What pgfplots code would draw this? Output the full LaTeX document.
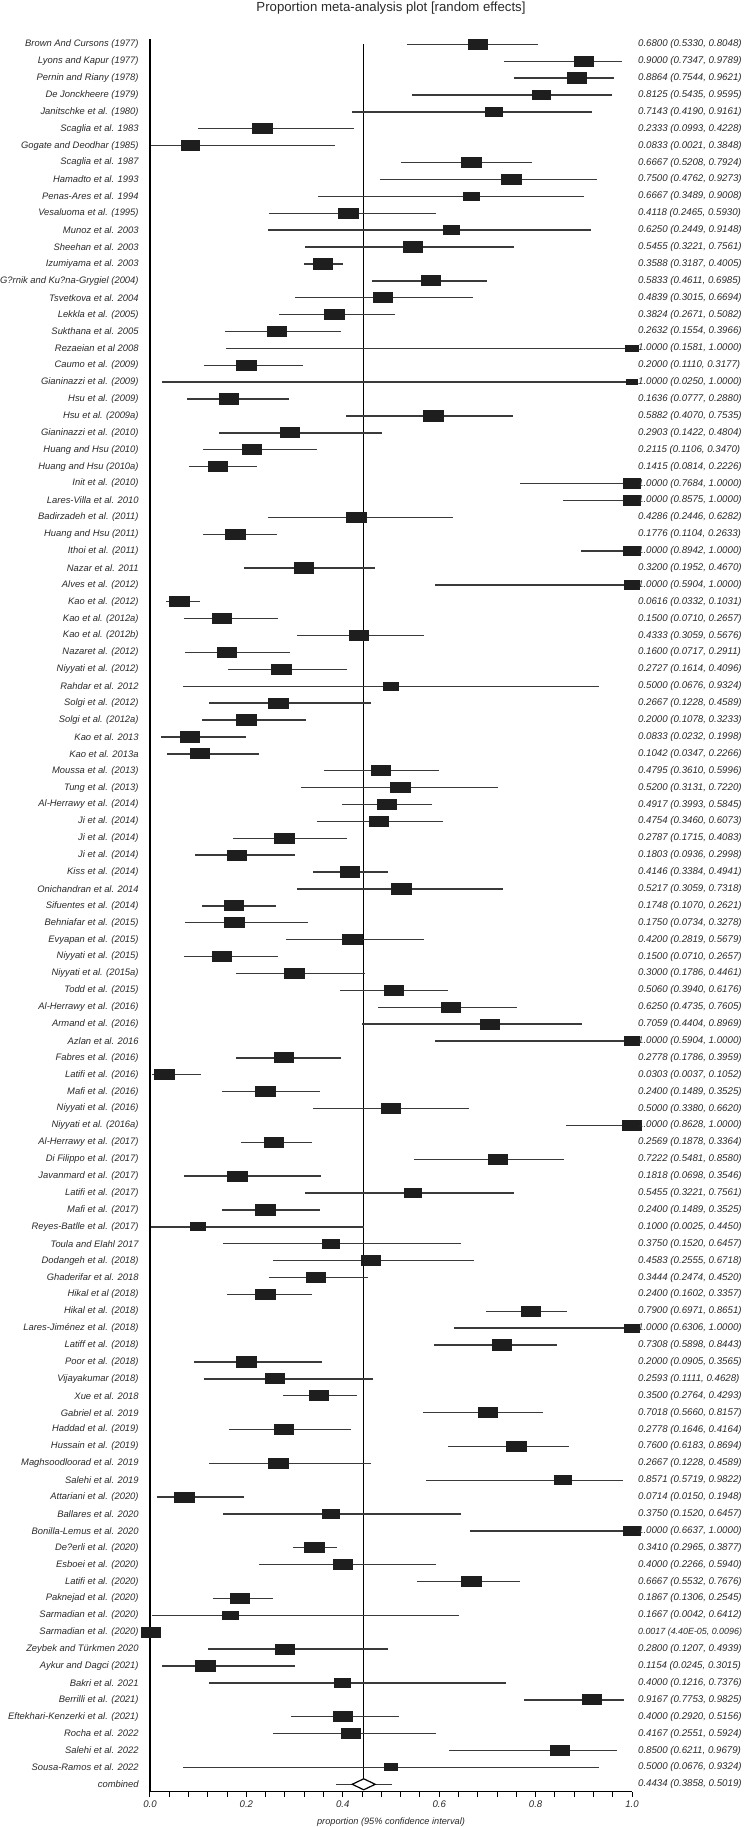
\documentclass[border=0pt]{standalone}
\usepackage{fontspec}
\setmainfont{Liberation Sans}
\usepackage{pgfplots}
\usepackage{pgfplotstable}
\pgfplotsset{compat=1.18}
\definecolor{boxc}{HTML}{1E1E1E}
\definecolor{linec}{HTML}{3A3A3A}
\definecolor{txtc}{HTML}{2A2A2A}

\pgfplotstableread[col sep=semicolon]{
row;name;p;lo;hi;w
1;Brown And Cursons (1977);0.6800;0.5330;0.8048;40
2;Lyons and Kapur (1977);0.9000;0.7347;0.9789;40
3;Pernin and Riany (1978);0.8864;0.7544;0.9621;40
4;De Jonckheere (1979);0.8125;0.5435;0.9595;36
5;Janitschke et al. (1980);0.7143;0.4190;0.9161;35
6;Scaglia et al. 1983;0.2333;0.0993;0.4228;40
7;Gogate and Deodhar (1985);0.0833;0.0021;0.3848;37
8;Scaglia et al. 1987;0.6667;0.5208;0.7924;40
9;Hamadto et al. 1993;0.7500;0.4762;0.9273;40
10;Penas-Ares et al. 1994;0.6667;0.3489;0.9008;34
11;Vesaluoma et al. (1995);0.4118;0.2465;0.5930;40
12;Munoz et al. 2003;0.6250;0.2449;0.9148;33
13;Sheehan et al. 2003;0.5455;0.3221;0.7561;40
14;Izumiyama et al. 2003;0.3588;0.3187;0.4005;40
15;G?rnik and Ku?na-Grygiel (2004);0.5833;0.4611;0.6985;40
16;Tsvetkova et al. 2004;0.4839;0.3015;0.6694;40
17;Lekkla et al. (2005);0.3824;0.2671;0.5082;40
18;Sukthana et al. 2005;0.2632;0.1554;0.3966;40
19;Rezaeian et al 2008;1.0000;0.1581;1.0000;25
20;Caumo et al. (2009);0.2000;0.1110;0.3177;40
21;Gianinazzi et al. (2009);1.0000;0.0250;1.0000;22
22;Hsu et al. (2009);0.1636;0.0777;0.2880;40
23;Hsu et al. (2009a);0.5882;0.4070;0.7535;40
24;Gianinazzi et al. (2010);0.2903;0.1422;0.4804;40
25;Huang and Hsu (2010);0.2115;0.1106;0.3470;40
26;Huang and Hsu (2010a);0.1415;0.0814;0.2226;40
27;Init et al. (2010);1.0000;0.7684;1.0000;37
28;Lares-Villa et al. 2010;1.0000;0.8575;1.0000;37
29;Badirzadeh et al. (2011);0.4286;0.2446;0.6282;40
30;Huang and Hsu (2011);0.1776;0.1104;0.2633;40
31;Ithoi et al. (2011);1.0000;0.8942;1.0000;37
32;Nazar et al. 2011;0.3200;0.1952;0.4670;40
33;Alves et al. (2012);1.0000;0.5904;1.0000;33
34;Kao et al. (2012);0.0616;0.0332;0.1031;40
35;Kao et al. (2012a);0.1500;0.0710;0.2657;40
36;Kao et al. (2012b);0.4333;0.3059;0.5676;40
37;Nazaret al. (2012);0.1600;0.0717;0.2911;40
38;Niyyati et al. (2012);0.2727;0.1614;0.4096;40
39;Rahdar et al. 2012;0.5000;0.0676;0.9324;32
40;Solgi et al. (2012);0.2667;0.1228;0.4589;40
41;Solgi et al. (2012a);0.2000;0.1078;0.3233;40
42;Kao et al. 2013;0.0833;0.0232;0.1998;40
43;Kao et al. 2013a;0.1042;0.0347;0.2266;40
44;Moussa et al. (2013);0.4795;0.3610;0.5996;40
45;Tung et al. (2013);0.5200;0.3131;0.7220;40
46;Al-Herrawy et al. (2014);0.4917;0.3993;0.5845;40
47;Ji et al. (2014);0.4754;0.3460;0.6073;40
48;Ji et al. (2014);0.2787;0.1715;0.4083;40
49;Ji et al. (2014);0.1803;0.0936;0.2998;40
50;Kiss et al. (2014);0.4146;0.3384;0.4941;40
51;Onichandran et al. 2014;0.5217;0.3059;0.7318;40
52;Sifuentes et al. (2014);0.1748;0.1070;0.2621;40
53;Behniafar et al. (2015);0.1750;0.0734;0.3278;40
54;Evyapan et al. (2015);0.4200;0.2819;0.5679;40
55;Niyyati et al. (2015);0.1500;0.0710;0.2657;40
56;Niyyati et al. (2015a);0.3000;0.1786;0.4461;40
57;Todd et al. (2015);0.5060;0.3940;0.6176;40
58;Al-Herrawy et al. (2016);0.6250;0.4735;0.7605;40
59;Armand et al. (2016);0.7059;0.4404;0.8969;40
60;Azlan et al. 2016;1.0000;0.5904;1.0000;32
61;Fabres et al. (2016);0.2778;0.1786;0.3959;40
62;Latifi et al. (2016);0.0303;0.0037;0.1052;40
63;Mafi et al. (2016);0.2400;0.1489;0.3525;40
64;Niyyati et al. (2016);0.5000;0.3380;0.6620;40
65;Niyyati et al. (2016a);1.0000;0.8628;1.0000;40
66;Al-Herrawy et al. (2017);0.2569;0.1878;0.3364;40
67;Di Filippo et al. (2017);0.7222;0.5481;0.8580;40
68;Javanmard et al. (2017);0.1818;0.0698;0.3546;40
69;Latifi et al. (2017);0.5455;0.3221;0.7561;35
70;Mafi et al. (2017);0.2400;0.1489;0.3525;40
71;Reyes-Batlle et al. (2017);0.1000;0.0025;0.4450;32
72;Toula and Elahl 2017;0.3750;0.1520;0.6457;36
73;Dodangeh et al. (2018);0.4583;0.2555;0.6718;40
74;Ghaderifar et al. 2018;0.3444;0.2474;0.4520;40
75;Hikal et al (2018);0.2400;0.1602;0.3357;40
76;Hikal et al. (2018);0.7900;0.6971;0.8651;40
77;Lares-Jiménez et al. (2018);1.0000;0.6306;1.0000;31
78;Latiff et al. (2018);0.7308;0.5898;0.8443;40
79;Poor et al. (2018);0.2000;0.0905;0.3565;40
80;Vijayakumar (2018);0.2593;0.1111;0.4628;40
81;Xue et al. 2018;0.3500;0.2764;0.4293;40
82;Gabriel et al. 2019;0.7018;0.5660;0.8157;40
83;Haddad et al. (2019);0.2778;0.1646;0.4164;40
84;Hussain et al. (2019);0.7600;0.6183;0.8694;40
85;Maghsoodloorad et al. 2019;0.2667;0.1228;0.4589;40
86;Salehi et al. 2019;0.8571;0.5719;0.9822;36
87;Attariani et al. (2020);0.0714;0.0150;0.1948;40
88;Ballares et al. 2020;0.3750;0.1520;0.6457;36
89;Bonilla-Lemus et al. 2020;1.0000;0.6637;1.0000;35
90;De?erli et al. (2020);0.3410;0.2965;0.3877;40
91;Esboei et al. (2020);0.4000;0.2266;0.5940;40
92;Latifi et al. (2020);0.6667;0.5532;0.7676;40
93;Paknejad et al. (2020);0.1867;0.1306;0.2545;40
94;Sarmadian et al. (2020);0.1667;0.0042;0.6412;32
95;Sarmadian et al. (2020);0.0017;0.000044;0.0096;38
96;Zeybek and Türkmen 2020;0.2800;0.1207;0.4939;40
97;Aykur and Dagci (2021);0.1154;0.0245;0.3015;40
98;Bakri et al. 2021;0.4000;0.1216;0.7376;33
99;Berrilli et al. (2021);0.9167;0.7753;0.9825;40
100;Eftekhari-Kenzerki et al. (2021);0.4000;0.2920;0.5156;40
101;Rocha et al. 2022;0.4167;0.2551;0.5924;40
102;Salehi et al. 2022;0.8500;0.6211;0.9679;40
103;Sousa-Ramos et al. 2022;0.5000;0.0676;0.9324;28
}\studies

\begin{document}
\begin{tikzpicture}
\path[use as bounding box] (-75pt,-17.65pt) rectangle (297pt,895.85pt);
\begin{axis}[
  at={(0pt,0pt)}, anchor=south west,
  scale only axis, width=241pt, height=876.2pt,
  xmin=0, xmax=1, ymin=0.704, ymax=104.44, y dir=reverse,
  clip=false,
  axis x line*=bottom, axis y line*=left,
  axis line style={line width=0.6pt, black},
  xtick={0,0.2,...,1.0}, minor tick num=4,
  tick align=outside, major tick length=2.5pt, minor tick length=2.5pt,
  every tick/.style={black, line width=0.5pt},
  xticklabel style={font=\fontsize{4.8}{5}\selectfont\itshape, text=txtc, inner sep=0pt, yshift=-1.7pt},
  /pgf/number format/.cd, fixed, fixed zerofill, precision=1, assume math mode=true, /pgfplots/.cd,
  ytick={1,...,103}, yticklabels from table={\studies}{name},
  extra y ticks={104}, extra y tick labels={combined},
  ytick style={draw=none}, extra y tick style={tick style={draw=none}},
  yticklabel style={font=\fontsize{4.7}{5}\selectfont\itshape, text=txtc, anchor=east, inner sep=0pt, xshift=-3.0pt},
  xlabel={proportion (95\% confidence interval)},
  xlabel style={font=\fontsize{4.6}{5}\selectfont\itshape, text=txtc, at={(axis description cs:0.5,0)}, anchor=center, yshift=-15pt},
  title={Proportion meta-analysis plot [random effects]},
  title style={font=\fontsize{6.6}{7}\selectfont, text=txtc, at={(axis description cs:0.5,1)}, anchor=center, yshift=9.65pt},
]
% null line
\addplot[black, line width=0.5pt] coordinates {(0.4434,1) (0.4434,104)};
% study CIs and boxes
\addplot[only marks, mark=square*, scatter,
  scatter/use mapped color={draw=boxc, fill=boxc},
  visualization depends on={0.06375*\thisrow{w} \as \msz},
  scatter/@pre marker code/.append style={/tikz/mark size=\msz},
  mark options={xscale=1.9, line width=0pt},
  error bars/.cd, x dir=both, x explicit, error mark=none,
  error bar style={linec, line width=0.7pt}]
  table[x=p, y=row, x error plus expr=\thisrow{hi}-\thisrow{p}, x error minus expr=\thisrow{p}-\thisrow{lo}] {\studies};
% combined
\addplot[linec, line width=0.7pt] coordinates {(0.3858,104) (0.5019,104)};
\addplot[black, fill=white, line width=0.6pt] coordinates {(0.4195,104) (0.4434,103.675) (0.4673,104) (0.4434,104.325)} -- cycle;
\end{axis}
\begin{axis}[
  at={(0pt,0pt)}, anchor=south west,
  scale only axis, width=241pt, height=876.2pt,
  xmin=0, xmax=1, ymin=0.704, ymax=104.44, y dir=reverse,
  hide x axis, axis y line*=right, y axis line style={draw=none},
  tick align=outside, major tick length=2.5pt,
  ytick={1,...,104}, ytick style={draw=none},
  yticklabel style={font=\fontsize{4.85}{5}\selectfont\itshape, text=txtc, anchor=west, inner sep=0pt, xshift=0.35pt},
  yticklabels={
{0.6800 (0.5330, 0.8048)},{0.9000 (0.7347, 0.9789)},{0.8864 (0.7544, 0.9621)},{0.8125 (0.5435, 0.9595)},{0.7143 (0.4190, 0.9161)},
{0.2333 (0.0993, 0.4228)},{0.0833 (0.0021, 0.3848)},{0.6667 (0.5208, 0.7924)},{0.7500 (0.4762, 0.9273)},{0.6667 (0.3489, 0.9008)},
{0.4118 (0.2465, 0.5930)},{0.6250 (0.2449, 0.9148)},{0.5455 (0.3221, 0.7561)},{0.3588 (0.3187, 0.4005)},{0.5833 (0.4611, 0.6985)},
{0.4839 (0.3015, 0.6694)},{0.3824 (0.2671, 0.5082)},{0.2632 (0.1554, 0.3966)},{1.0000 (0.1581, 1.0000)},{0.2000 (0.1110, 0.3177)},
{1.0000 (0.0250, 1.0000)},{0.1636 (0.0777, 0.2880)},{0.5882 (0.4070, 0.7535)},{0.2903 (0.1422, 0.4804)},{0.2115 (0.1106, 0.3470)},
{0.1415 (0.0814, 0.2226)},{1.0000 (0.7684, 1.0000)},{1.0000 (0.8575, 1.0000)},{0.4286 (0.2446, 0.6282)},{0.1776 (0.1104, 0.2633)},
{1.0000 (0.8942, 1.0000)},{0.3200 (0.1952, 0.4670)},{1.0000 (0.5904, 1.0000)},{0.0616 (0.0332, 0.1031)},{0.1500 (0.0710, 0.2657)},
{0.4333 (0.3059, 0.5676)},{0.1600 (0.0717, 0.2911)},{0.2727 (0.1614, 0.4096)},{0.5000 (0.0676, 0.9324)},{0.2667 (0.1228, 0.4589)},
{0.2000 (0.1078, 0.3233)},{0.0833 (0.0232, 0.1998)},{0.1042 (0.0347, 0.2266)},{0.4795 (0.3610, 0.5996)},{0.5200 (0.3131, 0.7220)},
{0.4917 (0.3993, 0.5845)},{0.4754 (0.3460, 0.6073)},{0.2787 (0.1715, 0.4083)},{0.1803 (0.0936, 0.2998)},{0.4146 (0.3384, 0.4941)},
{0.5217 (0.3059, 0.7318)},{0.1748 (0.1070, 0.2621)},{0.1750 (0.0734, 0.3278)},{0.4200 (0.2819, 0.5679)},{0.1500 (0.0710, 0.2657)},
{0.3000 (0.1786, 0.4461)},{0.5060 (0.3940, 0.6176)},{0.6250 (0.4735, 0.7605)},{0.7059 (0.4404, 0.8969)},{1.0000 (0.5904, 1.0000)},
{0.2778 (0.1786, 0.3959)},{0.0303 (0.0037, 0.1052)},{0.2400 (0.1489, 0.3525)},{0.5000 (0.3380, 0.6620)},{1.0000 (0.8628, 1.0000)},
{0.2569 (0.1878, 0.3364)},{0.7222 (0.5481, 0.8580)},{0.1818 (0.0698, 0.3546)},{0.5455 (0.3221, 0.7561)},{0.2400 (0.1489, 0.3525)},
{0.1000 (0.0025, 0.4450)},{0.3750 (0.1520, 0.6457)},{0.4583 (0.2555, 0.6718)},{0.3444 (0.2474, 0.4520)},{0.2400 (0.1602, 0.3357)},
{0.7900 (0.6971, 0.8651)},{1.0000 (0.6306, 1.0000)},{0.7308 (0.5898, 0.8443)},{0.2000 (0.0905, 0.3565)},{0.2593 (0.1111, 0.4628)},
{0.3500 (0.2764, 0.4293)},{0.7018 (0.5660, 0.8157)},{0.2778 (0.1646, 0.4164)},{0.7600 (0.6183, 0.8694)},{0.2667 (0.1228, 0.4589)},
{0.8571 (0.5719, 0.9822)},{0.0714 (0.0150, 0.1948)},{0.3750 (0.1520, 0.6457)},{1.0000 (0.6637, 1.0000)},{0.3410 (0.2965, 0.3877)},
{0.4000 (0.2266, 0.5940)},{0.6667 (0.5532, 0.7676)},{0.1867 (0.1306, 0.2545)},{0.1667 (0.0042, 0.6412)},{\fontsize{4.45}{5}\selectfont 0.0017 (4.40E-05, 0.0096)},
{0.2800 (0.1207, 0.4939)},{0.1154 (0.0245, 0.3015)},{0.4000 (0.1216, 0.7376)},{0.9167 (0.7753, 0.9825)},{0.4000 (0.2920, 0.5156)},
{0.4167 (0.2551, 0.5924)},{0.8500 (0.6211, 0.9679)},{0.5000 (0.0676, 0.9324)},{0.4434 (0.3858, 0.5019)}
  },
]
\addplot[draw=none, mark=none] coordinates {(0.5,1) (0.5,104)};
\end{axis}
\end{tikzpicture}
\end{document}
